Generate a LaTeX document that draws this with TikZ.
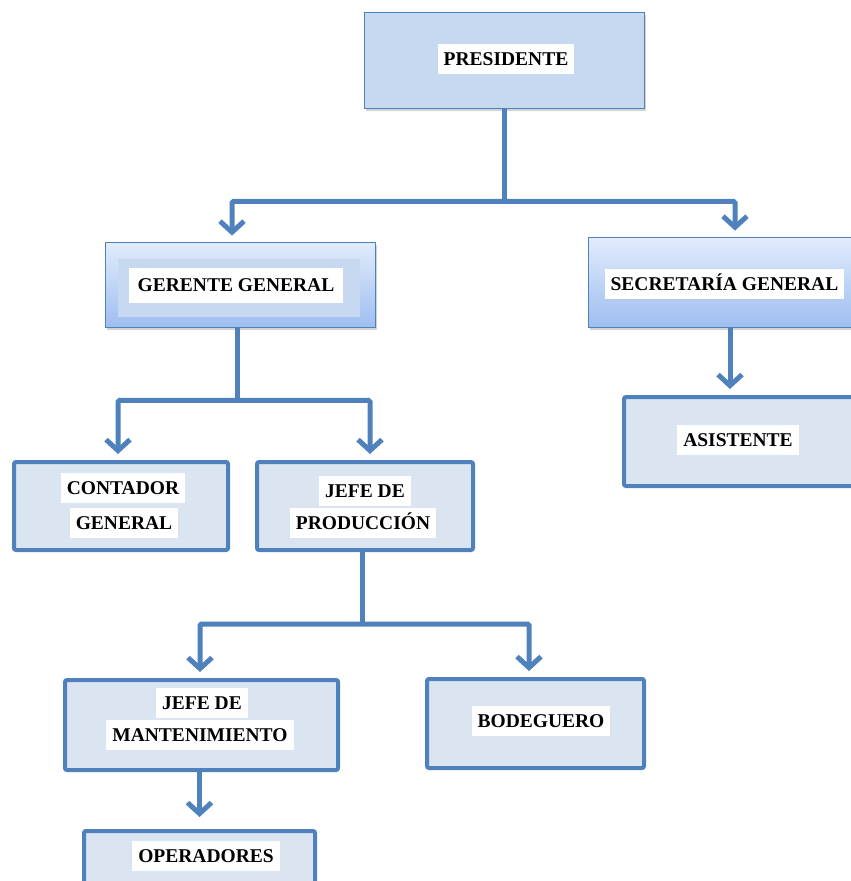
\documentclass[tikz,border=0pt]{standalone}
\usepackage{fontspec}
\setmainfont{Liberation Serif}
\usetikzlibrary{arrows.meta,shadows}
\definecolor{linkblue}{RGB}{79,129,189}
\definecolor{presfill}{RGB}{198,217,241}
\definecolor{boxfill}{RGB}{219,229,241}
\definecolor{gradtop}{RGB}{226,236,252}
\definecolor{gradbot}{RGB}{158,190,240}
\definecolor{innerfill}{RGB}{198,217,240}
\begin{document}
\begin{tikzpicture}[x=1pt,y=-1pt,>={Straight Barb[length=11pt,width=24pt]},
    thinbox/.style={draw=linkblue, line width=0.8pt, drop shadow={opacity=0.35,shadow xshift=2pt,shadow yshift=-2.5pt}},
    thickbox/.style={draw=linkblue, fill=boxfill, line width=4pt, rounded corners=2pt},
    lbl/.style={fill=white, font=\fontsize{19.5}{21}\selectfont\bfseries, inner xsep=6pt, inner ysep=0pt, minimum height=30pt, text height=13.5pt, text depth=0pt},
    link/.style={draw=linkblue, line width=5pt, rounded corners=1.5pt},
    arr/.style={link, ->, shorten >=6pt}]
    \useasboundingbox (0,0) rectangle (851,881);
    \clip (0,0) rectangle (851,881);

    \node[thinbox, fill=presfill, minimum width=280pt, minimum height=96pt] (pres) at (504,60) {};
    \node[thinbox, top color=gradtop, bottom color=gradbot, minimum width=270pt, minimum height=85pt] (ger) at (240,284.5) {};
    \fill[innerfill] ([xshift=13pt,yshift=-17pt]ger.north west) rectangle ([xshift=-15pt,yshift=10pt]ger.south east);
    \node[thinbox, top color=gradtop, bottom color=gradbot, minimum width=284pt, minimum height=90pt] (sec) at (730,282) {};
    \node[thickbox, minimum width=234pt, minimum height=89pt] (asis) at (741,441.5) {};
    \node[thickbox, minimum width=214pt, minimum height=88pt] (cont) at (121,506) {};
    \node[thickbox, minimum width=216pt, minimum height=88pt] (jprod) at (365,506) {};
    \node[thickbox, minimum width=273pt, minimum height=90pt] (jmant) at (201.5,725) {};
    \node[thickbox, minimum width=217pt, minimum height=89pt] (bod) at (535.5,723.5) {};
    \node[thickbox, minimum width=231pt, minimum height=90pt] (oper) at (199.5,876) {};

    \node[lbl] (pres-t) at (506,59) {PRESIDENTE};
    \node[lbl, inner xsep=9pt, minimum height=35pt] (ger-t) at (236,285) {GERENTE GENERAL};
    \node[lbl] (sec-t) at (724.5,283.5) {SECRETARÍA GENERAL};
    \node[lbl] (asis-t) at (738,440) {ASISTENTE};
    \node[lbl] (cont-a) at (123,488) {CONTADOR};
    \node[lbl] (cont-b) at (124,523) {GENERAL};
    \node[lbl] (jprod-a) at (365,491) {JEFE DE};
    \node[lbl] (jprod-b) at (363,523) {PRODUCCIÓN};
    \node[lbl] (jmant-a) at (202,703) {JEFE DE};
    \node[lbl] (jmant-b) at (200,735) {MANTENIMIENTO};
    \node[lbl] (bod-t) at (541,721) {BODEGUERO};
    \node[lbl] (oper-t) at (206,856) {OPERADORES};

    \draw[link] (pres.south) -- ++(0,93) coordinate (b1);
    \draw[arr] (b1) -| ([xshift=-8pt]ger.north);
    \draw[arr] (b1) -| ([xshift=5pt]sec.north);
    \draw[arr] (sec.south) -- (sec.south |- asis.north);

    \draw[link] ([xshift=-3pt]ger.south) -- ++(0,73) coordinate (b2);
    \draw[arr] (b2) -| ([xshift=-3pt]cont.north);
    \draw[arr] (b2) -| ([xshift=5pt]jprod.north);

    \draw[link] ([xshift=-3pt]jprod.south) -- ++(0,72) coordinate (b3);
    \draw[arr] (b3) -| ([xshift=-1.5pt]jmant.north);
    \draw[arr] (b3) -| ([xshift=-6.5pt]bod.north);

    \draw[arr, shorten >=12pt] ([xshift=-2pt]jmant.south) -- ([xshift=-2pt]jmant.south |- oper.north);
\end{tikzpicture}
\end{document}
